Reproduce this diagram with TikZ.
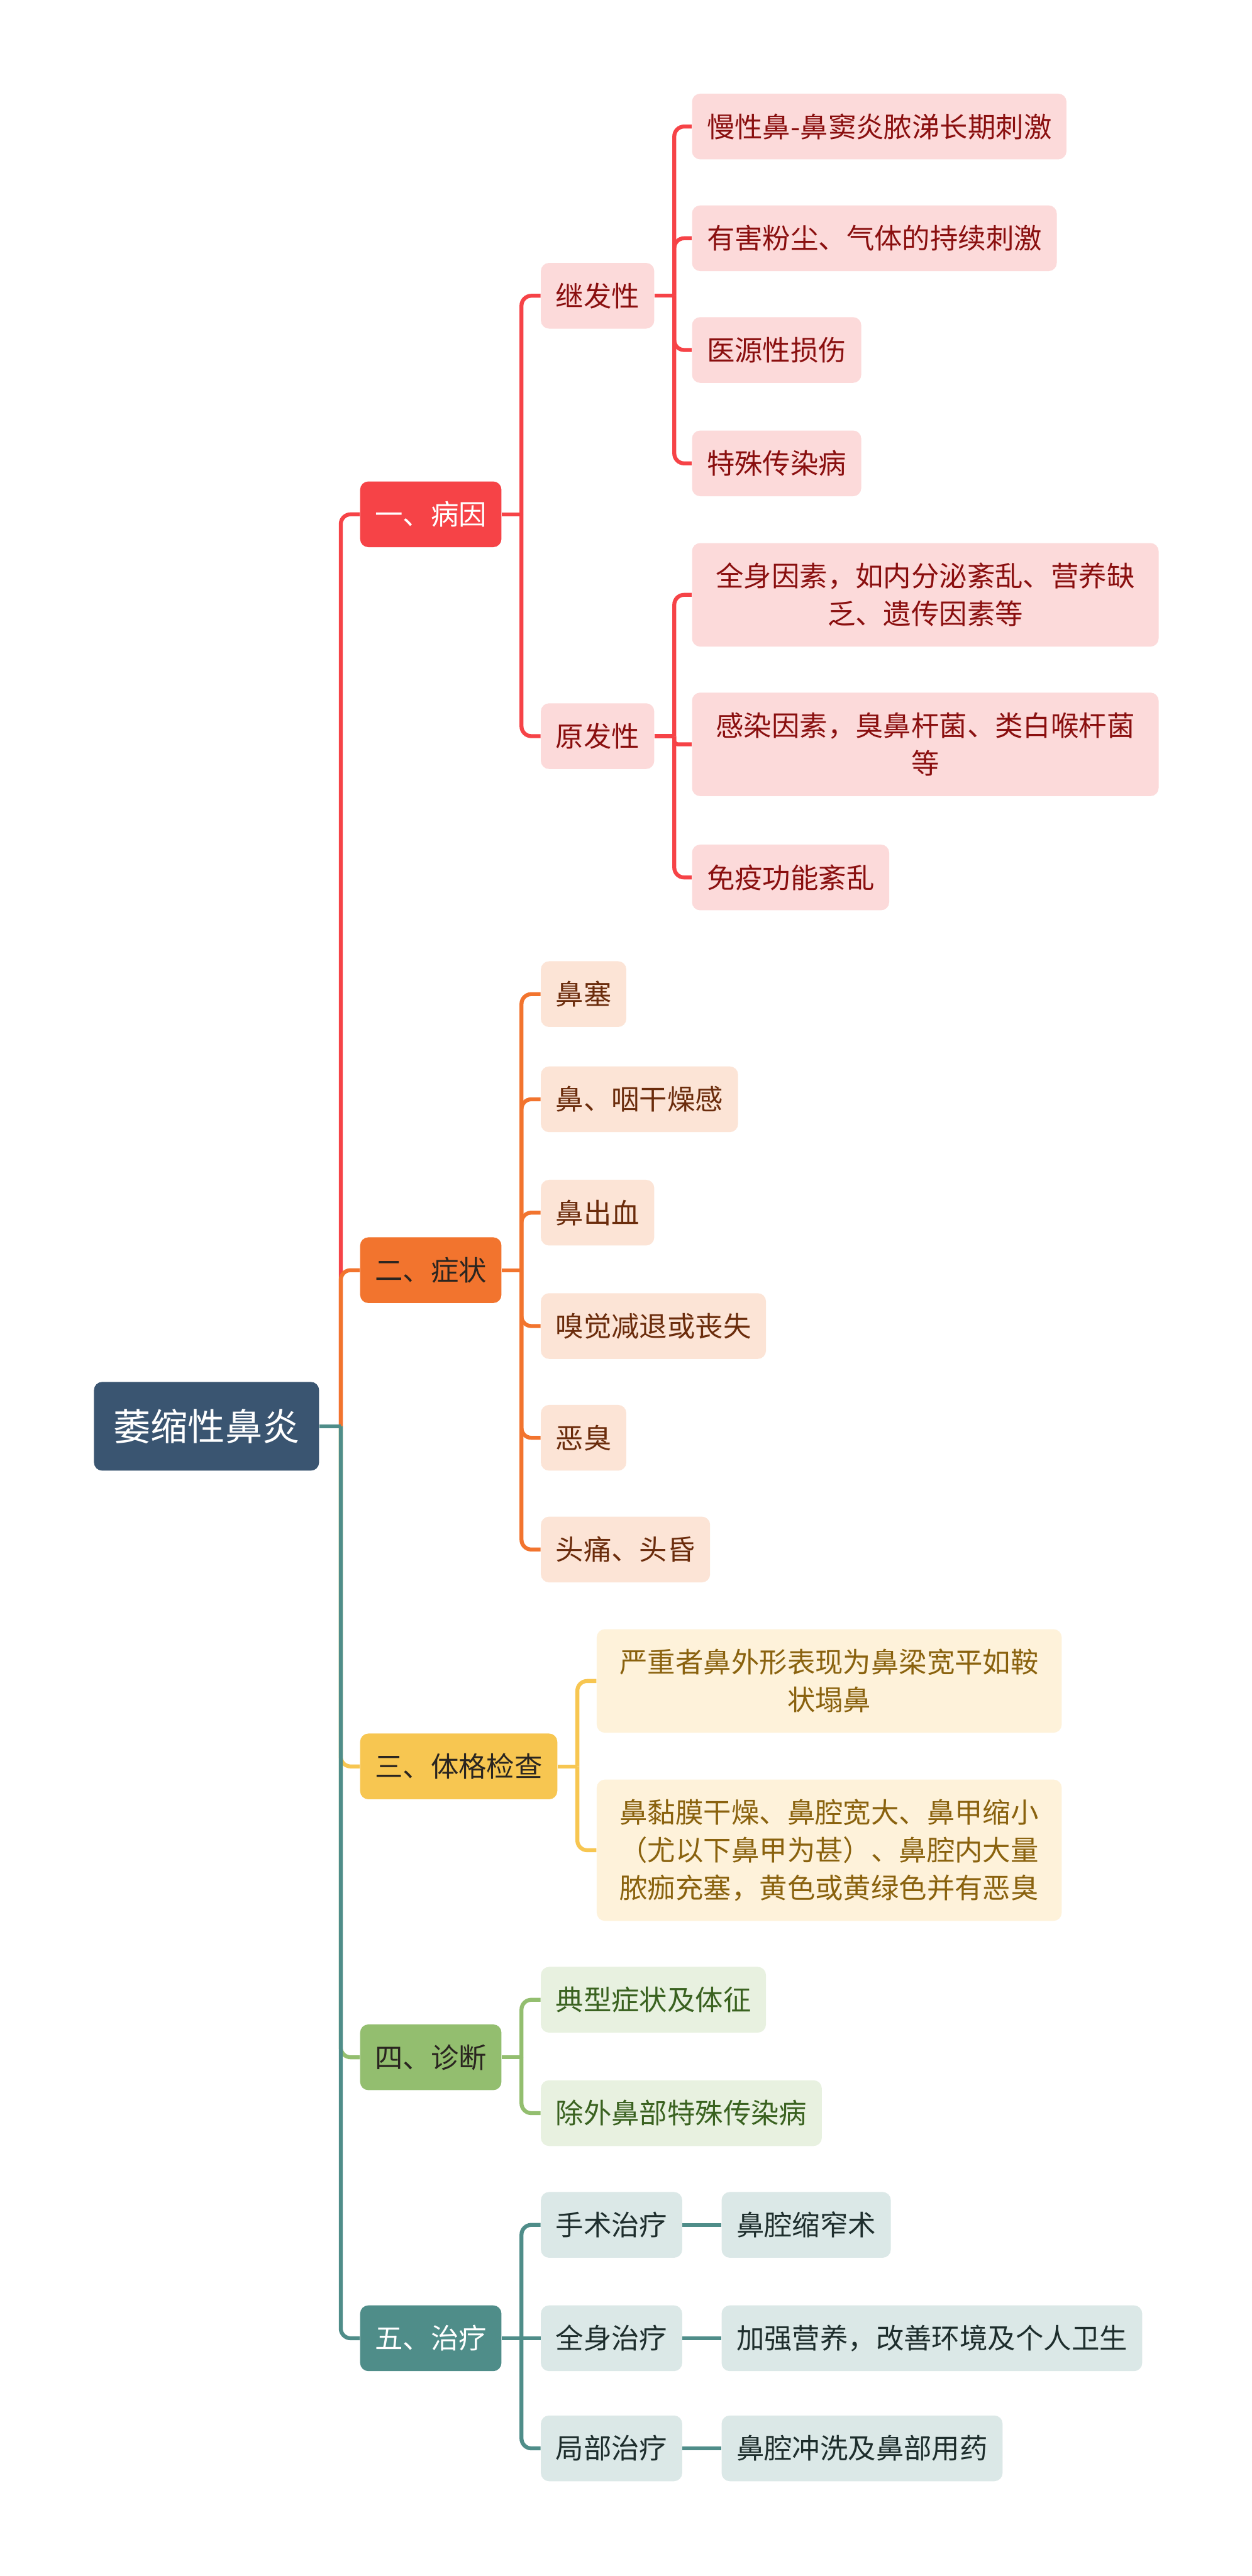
\documentclass[tikz,border=0pt]{standalone}
\usepackage{fontspec}
\setmainfont{Noto Sans CJK SC}

% branch colours
\definecolor{rootblue}{HTML}{3A5571}
\definecolor{redmain}{HTML}{F64347}
\definecolor{redfill}{HTML}{FCDADA}
\definecolor{redtext}{HTML}{8A0F0F}
\definecolor{orgmain}{HTML}{F2742E}
\definecolor{orgfill}{HTML}{FCE4D6}
\definecolor{orgtext}{HTML}{6B2C0C}
\definecolor{yelmain}{HTML}{F7C651}
\definecolor{yelfill}{HTML}{FEF2DA}
\definecolor{yeltext}{HTML}{8A620E}
\definecolor{grnmain}{HTML}{93BE6F}
\definecolor{grnfill}{HTML}{E8F1E0}
\definecolor{grntext}{HTML}{3A6220}
\definecolor{tealmain}{HTML}{4F8D89}
\definecolor{tealfill}{HTML}{DBE8E7}
\definecolor{tealtext}{HTML}{1E2E2D}
\definecolor{darktext}{HTML}{2A2520}

\tikzset{
    box/.style={rounded corners=5pt, inner xsep=9pt, inner ysep=0pt,
        minimum height=40pt, anchor=west, align=center,
        font=\fontsize{17}{23}\selectfont},
    rootbox/.style={box, fill=rootblue, text=white, inner xsep=11.75pt,
        minimum height=54pt, font=\fontsize{22.7}{28}\selectfont},
    twoline/.style={minimum height=63pt},
    threeline/.style={minimum height=86pt},
    link/.style={line width=2.4pt},
    % level one
    topR/.style={box, fill=redmain, text=white},
    topO/.style={box, fill=orgmain, text=darktext},
    topY/.style={box, fill=yelmain, text=darktext},
    topG/.style={box, fill=grnmain, text=darktext},
    topT/.style={box, fill=tealmain, text=white},
    % lower levels
    subR/.style={box, fill=redfill, text=redtext},
    subO/.style={box, fill=orgfill, text=orgtext},
    subY/.style={box, fill=yelfill, text=yeltext},
    subG/.style={box, fill=grnfill, text=grntext},
    subT/.style={box, fill=tealfill, text=tealtext},
}

\begin{document}
\begin{tikzpicture}[x=1pt,y=-1pt]

    \useasboundingbox[fill=white] (0,0) rectangle (762,1567.7);

    % ---- root ----
    \node[rootbox] (root) at (57,868) {萎缩性鼻炎};

    % ---- level one ----
    \node[topR] (cause) at (219,313) {一、病因};
    \node[topO] (symp)  at (219,773) {二、症状};
    \node[topY] (exam)  at (219,1075) {三、体格检查};
    \node[topG] (diag)  at (219,1252) {四、诊断};
    \node[topT] (treat) at (219,1423) {五、治疗};

    % ---- 一、病因 ----
    \node[subR] (second) at (329,180) {继发性};
    \node[subR] (primary) at (329,448) {原发性};

    \node[subR] (sec1) at (421,77)  {慢性鼻-鼻窦炎脓涕长期刺激};
    \node[subR] (sec2) at (421,145) {有害粉尘、气体的持续刺激};
    \node[subR] (sec3) at (421,213) {医源性损伤};
    \node[subR] (sec4) at (421,282) {特殊传染病};

    \node[subR, twoline, minimum width=284pt] (pri1) at (421,362)
        {全身因素，如内分泌紊乱、营养缺\\乏、遗传因素等};
    \node[subR, twoline, minimum width=284pt] (pri2) at (421,453)
        {感染因素，臭鼻杆菌、类白喉杆菌\\等};
    \node[subR] (pri3) at (421,534) {免疫功能紊乱};

    % ---- 二、症状 ----
    \node[subO] (sym1) at (329,605) {鼻塞};
    \node[subO] (sym2) at (329,669) {鼻、咽干燥感};
    \node[subO] (sym3) at (329,738) {鼻出血};
    \node[subO] (sym4) at (329,807) {嗅觉减退或丧失};
    \node[subO] (sym5) at (329,875) {恶臭};
    \node[subO] (sym6) at (329,943) {头痛、头昏};

    % ---- 三、体格检查 ----
    \node[subY, twoline, minimum width=283pt] (exa1) at (363,1023)
        {严重者鼻外形表现为鼻梁宽平如鞍\\状塌鼻};
    \node[subY, threeline, minimum width=283pt] (exa2) at (363,1126)
        {鼻黏膜干燥、鼻腔宽大、鼻甲缩小\\（尤以下鼻甲为甚）、鼻腔内大量\\脓痂充塞，黄色或黄绿色并有恶臭};

    % ---- 四、诊断 ----
    \node[subG] (dia1) at (329,1217) {典型症状及体征};
    \node[subG] (dia2) at (329,1286) {除外鼻部特殊传染病};

    % ---- 五、治疗 ----
    \node[subT] (tre1) at (329,1354) {手术治疗};
    \node[subT] (tre2) at (329,1423) {全身治疗};
    \node[subT] (tre3) at (329,1490) {局部治疗};
    \node[subT] (tre1a) at (439,1354) {鼻腔缩窄术};
    \node[subT] (tre2a) at (439,1423) {加强营养，改善环境及个人卫生};
    \node[subT] (tre3a) at (439,1490) {鼻腔冲洗及鼻部用药};

    % ---- connectors ----
    % trunk from the root, one colour per branch
    \coordinate (j0) at ([xshift=13pt]root.east);
    \foreach \n/\c in {cause/redmain, symp/orgmain, exam/yelmain, diag/grnmain, treat/tealmain} {
        \draw[link, \c, rounded corners=6pt] (j0) |- (\n.west);
    }
    \draw[link, tealmain] (root.east) -- (j0);

    % 一、病因
    \draw[link, redmain] (cause.east) -- ++(12,0) coordinate (j1);
    \foreach \n in {second,primary}
        \draw[link, redmain, rounded corners=6pt] (j1) |- (\n.west);
    \draw[link, redmain] (second.east) -- ++(12,0) coordinate (j11);
    \foreach \n in {sec1,sec2,sec3,sec4}
        \draw[link, redmain, rounded corners=6pt] (j11) |- (\n.west);
    \draw[link, redmain] (primary.east) -- ++(12,0) coordinate (j12);
    \foreach \n in {pri1,pri3}
        \draw[link, redmain, rounded corners=6pt] (j12) |- (\n.west);
    \draw[link, redmain, rounded corners=2pt] (j12) |- (pri2.west);

    % 二、症状
    \draw[link, orgmain] (symp.east) -- ++(12,0) coordinate (j2);
    \foreach \n in {sym1,sym2,sym3,sym4,sym5,sym6}
        \draw[link, orgmain, rounded corners=6pt] (j2) |- (\n.west);

    % 三、体格检查
    \draw[link, yelmain] (exam.east) -- ++(12,0) coordinate (j3);
    \foreach \n in {exa1,exa2}
        \draw[link, yelmain, rounded corners=6pt] (j3) |- (\n.west);

    % 四、诊断
    \draw[link, grnmain] (diag.east) -- ++(12,0) coordinate (j4);
    \foreach \n in {dia1,dia2}
        \draw[link, grnmain, rounded corners=6pt] (j4) |- (\n.west);

    % 五、治疗
    \draw[link, tealmain] (treat.east) -- ++(12,0) coordinate (j5);
    \foreach \n in {tre1,tre3}
        \draw[link, tealmain, rounded corners=6pt] (j5) |- (\n.west);
    \draw[link, tealmain] (j5) -- (tre2.west);
    \foreach \a/\b in {tre1/tre1a, tre2/tre2a, tre3/tre3a}
        \draw[link, tealmain] (\a.east) -- (\b.west);

\end{tikzpicture}
\end{document}
